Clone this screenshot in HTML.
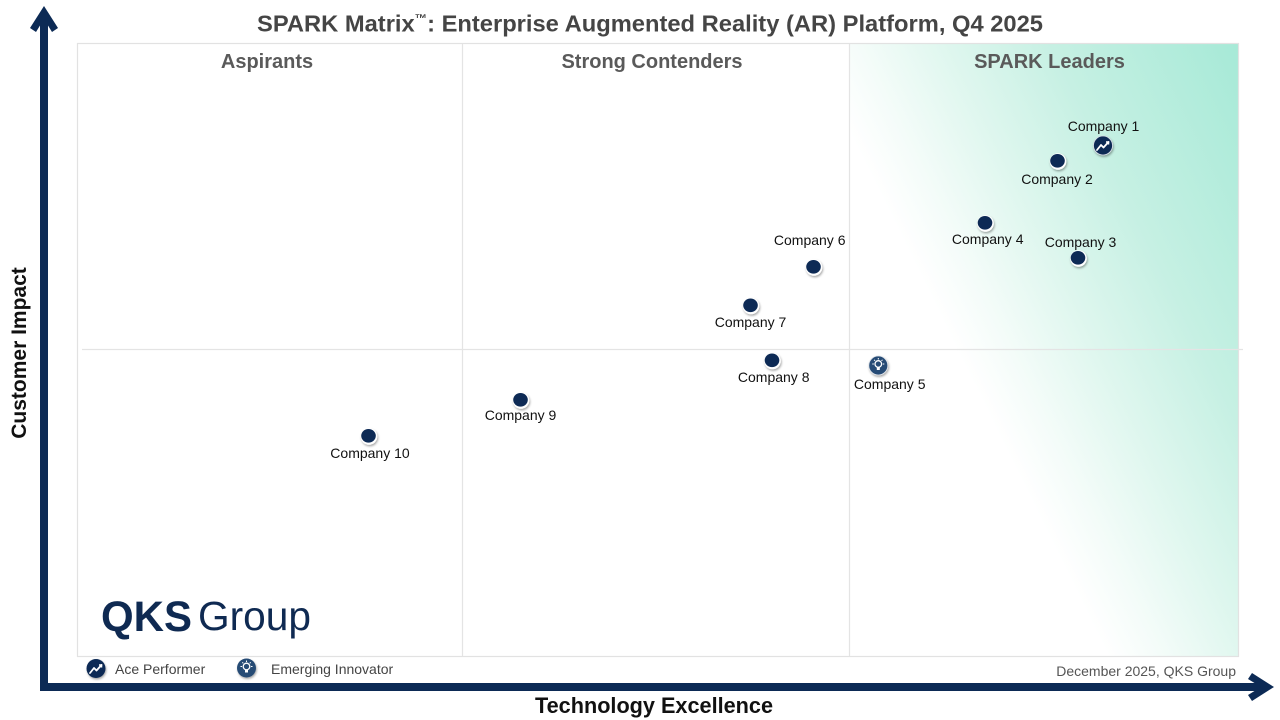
<!DOCTYPE html>
<html>
<head>
<meta charset="utf-8">
<style>
html,body{margin:0;padding:0;background:#fff;}
svg{display:block;}
text{font-family:"Liberation Sans",Arial,sans-serif;}
</style>
</head>
<body>
<svg width="1280" height="720" viewBox="0 0 1280 720" xmlns="http://www.w3.org/2000/svg">
<defs>
  <linearGradient id="lg" gradientUnits="userSpaceOnUse" x1="947" y1="330" x2="1306" y2="153">
    <stop offset="0" stop-color="#ffffff"/>
    <stop offset="0.12" stop-color="#f4fcf9"/>
    <stop offset="0.3" stop-color="#e0f7ef"/>
    <stop offset="0.55" stop-color="#c6f0e3"/>
    <stop offset="1" stop-color="#a4e9d6"/>
  </linearGradient>
  <filter id="sh" x="-50%" y="-50%" width="200%" height="200%">
    <feDropShadow dx="0.8" dy="1.5" stdDeviation="1.1" flood-color="#000" flood-opacity="0.35"/>
  </filter>
</defs>

<!-- Leaders gradient -->
<rect x="849" y="43" width="390" height="614" fill="url(#lg)"/>

<!-- plot border -->
<rect x="77.5" y="43.5" width="1161" height="613" fill="none" stroke="#e2e2e2" stroke-width="1.2"/>
<line x1="462.5" y1="44" x2="462.5" y2="656" stroke="#e4e4e4" stroke-width="1.2"/>
<line x1="849.5" y1="44" x2="849.5" y2="656" stroke="#e4e4e4" stroke-width="1.2"/>
<line x1="82" y1="349.5" x2="1243" y2="349.5" stroke="#e4e4e4" stroke-width="1.2"/>

<!-- title -->
<text x="257" y="31.5" font-size="23" font-weight="bold" fill="#454545" textLength="786" lengthAdjust="spacingAndGlyphs">SPARK Matrix<tspan font-size="12" dy="-9">™</tspan><tspan dy="9">: Enterprise Augmented Reality (AR) Platform, Q4 2025</tspan></text>

<!-- quadrant labels -->
<text x="267" y="68" font-size="20" font-weight="bold" fill="#5a5a5a" text-anchor="middle">Aspirants</text>
<text x="652" y="68" font-size="20" font-weight="bold" fill="#5a5a5a" text-anchor="middle">Strong Contenders</text>
<text x="1049.5" y="68" font-size="20" font-weight="bold" fill="#5a5a5a" text-anchor="middle">SPARK Leaders</text>

<!-- axes arrows -->
<rect x="40" y="14" width="8" height="677" fill="#0c2a55"/>
<polygon points="44,6 58,28 52,32 44,19 36,32 30,28" fill="#0c2a55"/>
<rect x="40" y="683" width="1226" height="8" fill="#0c2a55"/>
<polygon points="1274,687 1252,673 1248,679 1261,687 1248,695 1252,701" fill="#0c2a55"/>

<!-- axis labels -->
<text transform="translate(26,353) rotate(-90)" font-size="21" font-weight="bold" fill="#111" text-anchor="middle">Customer Impact</text>
<text x="535" y="713" font-size="22" font-weight="bold" fill="#111" textLength="238" lengthAdjust="spacingAndGlyphs">Technology Excellence</text>

<!-- logo -->
<text x="101" y="631" font-size="43" font-weight="900" fill="#0f2a52" textLength="91" lengthAdjust="spacingAndGlyphs">QKS</text>
<text x="198" y="630" font-size="41" fill="#0f2a52" textLength="113" lengthAdjust="spacingAndGlyphs">Group</text>

<!-- legend -->
<g filter="url(#sh)"><circle cx="96" cy="668.5" r="9.5" fill="#0d2a55"/></g>
<polyline points="90,673 94,668 96.5,670.5 101.5,665" fill="none" stroke="#fff" stroke-width="1.8" stroke-linejoin="round" stroke-linecap="round"/>
<polyline points="99,665 101.5,665 101.5,667.5" fill="none" stroke="#fff" stroke-width="1.5"/>
<text x="115" y="674" font-size="14" fill="#444">Ace Performer</text>

<g filter="url(#sh)"><circle cx="246.5" cy="668" r="9.5" fill="#284b75"/></g>
<circle cx="246.5" cy="666.5" r="3.3" fill="none" stroke="#fff" stroke-width="1.3"/>
<rect x="245" y="670" width="3" height="2.5" fill="#fff"/>
<g stroke="#fff" stroke-width="1"><line x1="246.5" y1="660.5" x2="246.5" y2="662"/><line x1="240.5" y1="666.5" x2="242" y2="666.5"/><line x1="251" y1="666.5" x2="252.5" y2="666.5"/><line x1="242.3" y1="662.3" x2="243.3" y2="663.3"/><line x1="250.7" y1="662.3" x2="249.7" y2="663.3"/></g>
<text x="271" y="674" font-size="14" fill="#444">Emerging Innovator</text>

<text x="1236" y="676" font-size="14" fill="#555" text-anchor="end">December 2025, QKS Group</text>

<!-- dots -->
<g filter="url(#sh)">
  <circle cx="1058" cy="161.5" r="8.3" fill="#fff"/>
  <circle cx="1078.5" cy="258.5" r="8.3" fill="#fff"/>
  <circle cx="985.5" cy="223.5" r="8.3" fill="#fff"/>
  <circle cx="814" cy="267.5" r="8.3" fill="#fff"/>
  <circle cx="751" cy="306" r="8.3" fill="#fff"/>
  <circle cx="772.5" cy="361" r="8.3" fill="#fff"/>
  <circle cx="521" cy="400.5" r="8.3" fill="#fff"/>
  <circle cx="369" cy="436.5" r="8.3" fill="#fff"/>
</g>
<g fill="#0d2a55">
  <ellipse cx="1057.5" cy="160.8" rx="7.3" ry="6.8"/>
  <ellipse cx="1078" cy="257.8" rx="7.3" ry="6.8"/>
  <ellipse cx="985" cy="222.8" rx="7.3" ry="6.8"/>
  <ellipse cx="813.5" cy="266.8" rx="7.3" ry="6.8"/>
  <ellipse cx="750.5" cy="305.3" rx="7.3" ry="6.8"/>
  <ellipse cx="772" cy="360.3" rx="7.3" ry="6.8"/>
  <ellipse cx="520.5" cy="399.8" rx="7.3" ry="6.8"/>
  <ellipse cx="368.5" cy="435.8" rx="7.3" ry="6.8"/>
</g>

<!-- Company 1 ace icon -->
<g filter="url(#sh)"><circle cx="1103" cy="145.5" r="9.5" fill="#0d2a55" stroke="#d8dde6" stroke-width="0.8"/></g>
<polyline points="1097,150 1101,145 1103.5,147.5 1108.5,142" fill="none" stroke="#fff" stroke-width="1.8" stroke-linejoin="round" stroke-linecap="round"/>
<polyline points="1106,142 1108.5,142 1108.5,144.5" fill="none" stroke="#fff" stroke-width="1.5"/>

<!-- Company 5 innovator icon -->
<g filter="url(#sh)"><circle cx="878.3" cy="365.5" r="9.5" fill="#284b75" stroke="#dfe4ea" stroke-width="0.8"/></g>
<circle cx="878.3" cy="364" r="3.3" fill="none" stroke="#fff" stroke-width="1.3"/>
<rect x="876.8" y="367.5" width="3" height="2.5" fill="#fff"/>
<g stroke="#fff" stroke-width="1"><line x1="878.3" y1="358" x2="878.3" y2="359.5"/><line x1="872.3" y1="364" x2="873.8" y2="364"/><line x1="882.8" y1="364" x2="884.3" y2="364"/><line x1="874.1" y1="359.8" x2="875.1" y2="360.8"/><line x1="882.5" y1="359.8" x2="881.5" y2="360.8"/></g>

<!-- labels -->
<g font-size="14" fill="#111" text-anchor="middle">
  <text x="1103.5" y="131">Company 1</text>
  <text x="1057" y="184">Company 2</text>
  <text x="1080.5" y="247">Company 3</text>
  <text x="987.7" y="244">Company 4</text>
  <text x="889.7" y="389">Company 5</text>
  <text x="809.7" y="245">Company 6</text>
  <text x="750.5" y="327">Company 7</text>
  <text x="773.7" y="382">Company 8</text>
  <text x="520.5" y="420">Company 9</text>
  <text x="370" y="458">Company 10</text>
</g>
</svg>
</body>
</html>
